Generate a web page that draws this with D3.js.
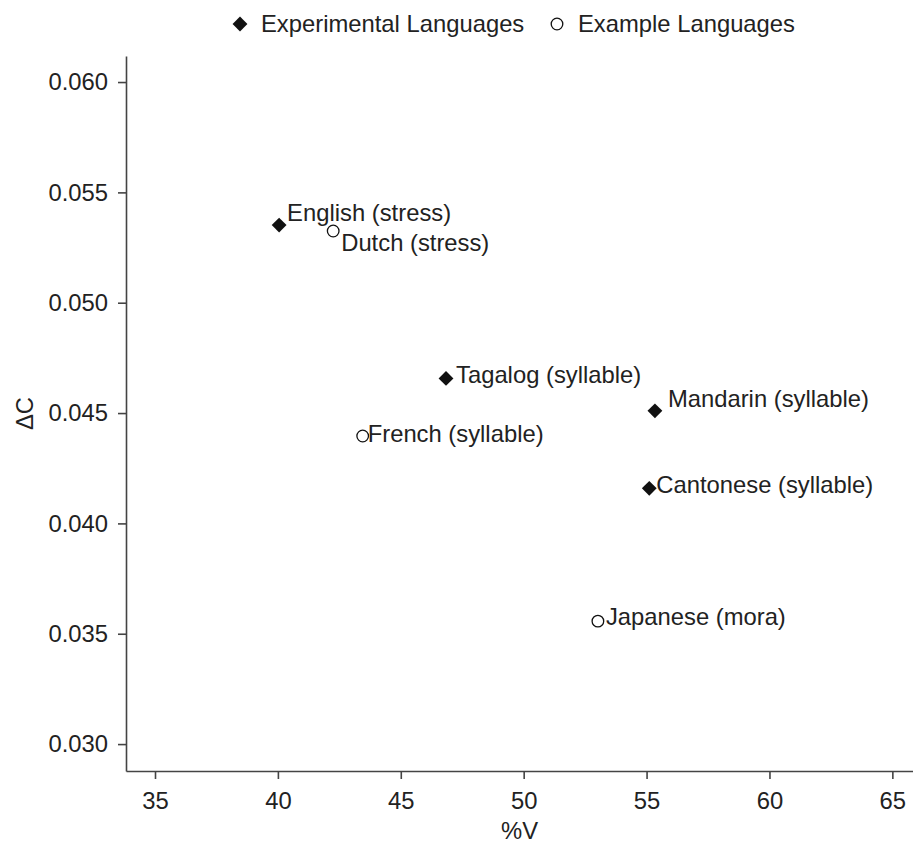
<!DOCTYPE html>
<html>
<head>
<meta charset="utf-8">
<script src="https://cdn.jsdelivr.net/npm/d3@7"></script>
<style>
  body { margin: 0; background: #fff; }
  svg text { font-family: "Liberation Sans", Arial, sans-serif; fill: #222; }
</style>
</head>
<body>
<svg id="chart"></svg>
<script>
// data
const languages = ['English (stress)', 'Dutch (stress)', 'Tagalog (syllable)', 'French (syllable)',
                   'Mandarin (syllable)', 'Cantonese (syllable)', 'Japanese (mora)'];
const groups = ['exp', 'ex', 'exp', 'ex', 'exp', 'exp', 'ex'];
const percentV = [40.05, 42.25, 46.84, 43.45, 55.34, 55.11, 53.02];
const deltaC = [0.05352, 0.05325, 0.04657, 0.04396, 0.04510, 0.04159, 0.03557];
const xTicks = [35, 40, 45, 50, 55, 60, 65];
const yTicks = [0.030, 0.035, 0.040, 0.045, 0.050, 0.055, 0.060];
const legendNames = ['Experimental Languages', 'Example Languages'];

const width = 913, height = 845;
const fontSize = 23.8;
const axisColor = '#444';

const svg = d3.select('#chart')
    .attr('width', width)
    .attr('height', height);

const xscale = d3.scaleLinear()
    .domain([33.82, 65.84])
    .range([126, 913]);

const yscale = d3.scaleLinear()
    .domain([0.02878, 0.06118])
    .range([771, 56]);

const xaxis = d3.axisBottom(xscale)
    .tickValues(xTicks)
    .tickFormat(d3.format('d'))
    .tickSize(8)
    .tickSizeOuter(0)
    .tickPadding(13);

const yaxis = d3.axisLeft(yscale)
    .tickValues(yTicks)
    .tickFormat(d3.format('.3f'))
    .tickSize(8)
    .tickSizeOuter(0)
    .tickPadding(10);

const xg = svg.append('g')
    .attr('transform', `translate(0, ${yscale.range()[0]})`)
    .call(xaxis);

const yg = svg.append('g')
    .attr('transform', `translate(${xscale.range()[0]}, 0)`)
    .call(yaxis);

[xg, yg].forEach(g => {
    g.selectAll('path, line').attr('stroke', axisColor).attr('stroke-width', 1.6);
    g.selectAll('text').attr('font-size', fontSize).attr('fill', '#222')
        .style('font-family', '"Liberation Sans", Arial, sans-serif');
});

// axis titles
svg.append('text')
    .attr('x', (126 + 913) / 2)
    .attr('y', 839)
    .attr('text-anchor', 'middle')
    .attr('font-size', fontSize)
    .text('%V');

svg.append('text')
    .attr('transform', `translate(33, ${(56 + 771) / 2}) rotate(-90)`)
    .attr('text-anchor', 'middle')
    .attr('font-size', fontSize)
    .text('\u0394C');

const diamond = d3.symbol().type(d3.symbolDiamond2).size(140);

function drawMarker(sel, group) {
    if (group === 'exp') {
        sel.append('path')
            .attr('d', diamond())
            .attr('fill', '#111');
    } else {
        sel.append('circle')
            .attr('r', 5.8)
            .attr('fill', '#fff')
            .attr('stroke', '#111')
            .attr('stroke-width', 1.3);
    }
}

// label offsets from the marker (dutch sits below its point)
const labelOffset = {
    'English (stress)': [8, -4],
    'Dutch (stress)': [8, 20],
    'Tagalog (syllable)': [10, 5],
    'French (syllable)': [5, 6],
    'Mandarin (syllable)': [13, -4],
    'Cantonese (syllable)': [7, 5],
    'Japanese (mora)': [8, 4]
};

const points = svg.selectAll('g.pt')
    .data(languages.map((name, i) => ({ name, group: groups[i], v: percentV[i], c: deltaC[i] })))
    .join('g')
    .attr('class', 'pt')
    .attr('transform', d => `translate(${xscale(d.v)}, ${yscale(d.c)})`);

points.each(function(d) { drawMarker(d3.select(this), d.group); });

points.append('text')
    .attr('x', d => labelOffset[d.name][0])
    .attr('y', d => labelOffset[d.name][1])
    .attr('font-size', fontSize)
    .text(d => d.name);

// legend
const legendX = [240, 557];
const legend = svg.selectAll('g.legend')
    .data(legendNames.map((name, i) => ({ name, group: i === 0 ? 'exp' : 'ex', x: legendX[i] })))
    .join('g')
    .attr('class', 'legend')
    .attr('transform', d => `translate(${d.x}, 24)`);

legend.each(function(d) { drawMarker(d3.select(this), d.group); });

legend.append('text')
    .attr('x', 21)
    .attr('y', 8)
    .attr('font-size', fontSize)
    .text(d => d.name);
</script>
</body>
</html>
